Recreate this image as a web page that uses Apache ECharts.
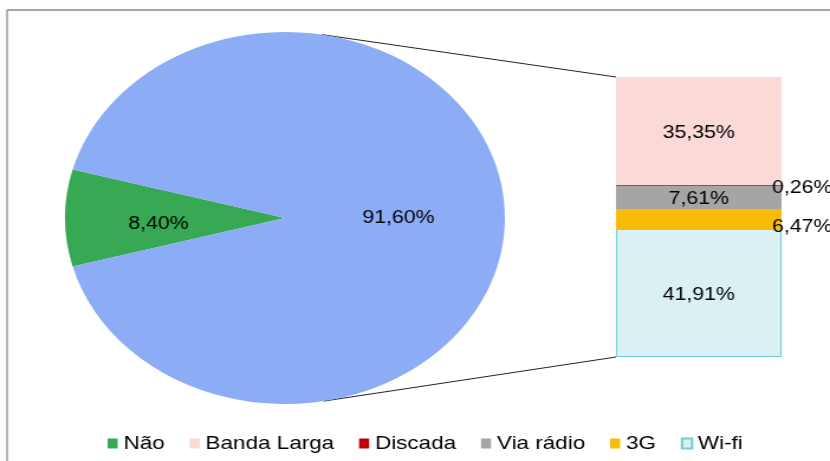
<!DOCTYPE html>
<html>
<head>
<meta charset="utf-8">
<script src="https://cdn.jsdelivr.net/npm/echarts@6/dist/echarts.min.js"></script>
<style>
  html, body { margin: 0; padding: 0; background: #fff; overflow: hidden; width: 830px; height: 461px; }
  #chart { width: 702px; height: 461px; transform: scaleX(1.18234); transform-origin: 0 0; }
</style>
</head>
<body>
<div id="chart"></div>
<script>
// ---- data ----
const pieNames = ['Não', 'Sim'];
const pieValues = [8.40, 91.60];
const barNames = ['Wi-fi', '3G', 'Via rádio', 'Discada', 'Banda Larga']; // bottom -> top
const barValues = [41.91, 6.47, 7.61, 0.26, 35.35];
const legendNames = ['Não', 'Banda Larga', 'Discada', 'Via rádio', '3G', 'Wi-fi'];

// ---- styles / layout ----
const pieColors = ['#37A853', '#8DACF6'];
const barColors = {'Wi-fi': '#DBF0F2', '3G': '#F9BC06', 'Via rádio': '#A5A5A5', 'Discada': '#C00000', 'Banda Larga': '#FAD9D7'};
const FONT = 'Liberation Sans, Arial, sans-serif';
const PIE_CX = 241, PIE_CY = 218, PIE_R = 186;
const BAR_LEFT = 521, BAR_TOP = 77, BAR_W = 140, BAR_H = 280;

const fmt = v => v.toFixed(2).replace('.', ',') + '%';
const barTotal = barValues.reduce((a, b) => a + b, 0);

function tangentPoint(px, py, sign) {
  const dx = px - PIE_CX, dy = py - PIE_CY;
  const d = Math.hypot(dx, dy);
  const a = Math.atan2(dy, dx) + sign * Math.acos(PIE_R / d);
  return [PIE_CX + PIE_R * Math.cos(a), PIE_CY + PIE_R * Math.sin(a)];
}
const tTop = tangentPoint(BAR_LEFT, BAR_TOP, -1);
const tBot = tangentPoint(BAR_LEFT, BAR_TOP + BAR_H, 1);

const chart = echarts.init(document.getElementById('chart'), null, {renderer: 'canvas'});

const barSeries = barNames.map((n, i) => {
  const outside = (n === 'Discada' || n === '3G');
  return {
    name: n,
    type: 'bar',
    stack: 'total',
    barWidth: '100%',
    data: [barValues[i]],
    itemStyle: {
      color: barColors[n],
      borderColor: n === 'Wi-fi' ? '#6CCFD5' : null,
      borderWidth: n === 'Wi-fi' ? 1 : 0
    },
    label: {
      show: true,
      position: outside ? 'right' : 'inside',
      distance: outside ? -8 : 5,
      offset: outside ? [0, n === '3G' ? 8 : 3] : [0, 2],
      formatter: p => fmt(p.value),
      fontFamily: FONT,
      fontSize: 18,
      color: '#000'
    },
    emphasis: {disabled: true}
  };
});

const option = {
  backgroundColor: '#fff',
  animation: false,
  legend: {
    data: legendNames,
    icon: 'rect',
    left: 86,
    top: 429,
    itemWidth: 8.5,
    itemHeight: 10,
    itemGap: 21,
    textStyle: {fontFamily: FONT, fontSize: 19, color: '#000'}
  },
  grid: {left: BAR_LEFT, top: BAR_TOP, width: BAR_W, height: BAR_H},
  xAxis: {type: 'category', data: ['Sim'], show: false},
  yAxis: {type: 'value', min: 0, max: barTotal, show: false},
  graphic: [
    {type: 'line', shape: {x1: 6, y1: 10, x2: 702, y2: 10}, style: {stroke: '#8a8a8a', lineWidth: 1.3}, silent: true},
    {type: 'line', shape: {x1: 6, y1: 10, x2: 6, y2: 461}, style: {stroke: '#8a8a8a', lineWidth: 1.3}, silent: true},
    {type: 'line', shape: {x1: tTop[0], y1: tTop[1], x2: BAR_LEFT, y2: BAR_TOP}, style: {stroke: '#222', lineWidth: 1}, silent: true},
    {type: 'line', shape: {x1: tBot[0], y1: tBot[1], x2: BAR_LEFT, y2: BAR_TOP + BAR_H}, style: {stroke: '#222', lineWidth: 1}, silent: true}
  ],
  series: [
    {
      name: 'pie',
      type: 'pie',
      center: [PIE_CX, PIE_CY],
      radius: [0, PIE_R],
      startAngle: 180 + pieValues[0] / 100 * 180,
      clockwise: true,
      data: pieNames.map((n, i) => ({
        name: n,
        value: pieValues[i],
        itemStyle: {color: pieColors[i]},
        label: i === 0 ? {offset: [-11, 6]} : {}
      })),
      label: {
        show: true,
        position: 'inside',
        formatter: p => fmt(p.value),
        fontFamily: FONT,
        fontSize: 18,
        color: '#000'
      },
      labelLine: {show: false},
      emphasis: {disabled: true}
    },
    ...barSeries
  ]
};
chart.setOption(option);
</script>
</body>
</html>
